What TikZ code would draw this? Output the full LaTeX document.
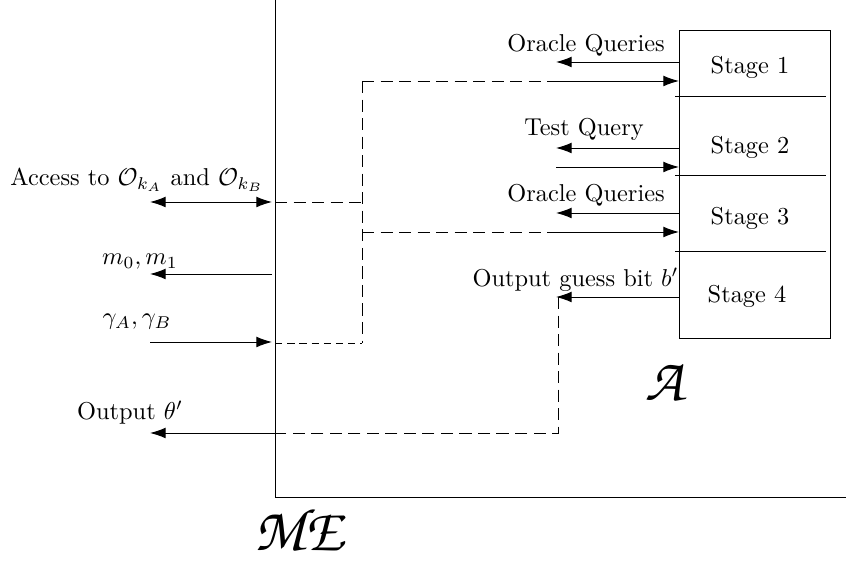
\documentclass[tikz,border=0pt]{standalone}
\usepackage{amsmath}
\DeclareMathAlphabet{\mathpzc}{OT1}{pzc}{m}{it}
\usetikzlibrary{arrows.meta}
\begin{document}
\begin{tikzpicture}[x=0.41pt,y=-0.41pt,
  tip/.style={-{Latex[length=6.4pt,width=4.4pt]}},
  dtip/.style={{Latex[length=6.4pt,width=4.4pt]}-{Latex[length=6.4pt,width=4.4pt]}},
  longdash/.style={dash pattern=on 5pt off 2.6pt},
  shortdash/.style={dash pattern=on 3pt off 2pt},
  lab/.style={inner sep=0pt,font=\normalsize}]
\useasboundingbox (0,0) rectangle (846,567);
% ME frame
\coordinate (metop) at (275,0);
\coordinate (mecorner) at (275,497);
\coordinate (meright) at (846,497);
\draw (metop) -- (mecorner) -- (meright);
% Stage box
\draw (679,30) rectangle (830,338);
\draw (675,96) -- (826,96);
\draw (675,175) -- (826,175);
\draw (675,251) -- (826,251);
\node[lab] (s1) at (750,67) {Stage 1};
\node[lab] (s2) at (750,147) {Stage 2};
\node[lab] (s3) at (750,218) {Stage 3};
\node[lab] (s4) at (747,296) {Stage 4};
% coordinates on box edge
\coordinate (b1a) at (679,62);  \coordinate (l1a) at (556,62);
\coordinate (b1b) at (679,81);  \coordinate (l1b) at (556,81);
\coordinate (b2a) at (679,148); \coordinate (l2a) at (556,148);
\coordinate (b2b) at (679,167); \coordinate (l2b) at (556,167);
\coordinate (b3a) at (679,213); \coordinate (l3a) at (556,213);
\coordinate (b3b) at (679,232); \coordinate (l3b) at (556,232);
\coordinate (b4) at (679,297);  \coordinate (l4) at (556,297);
\draw[tip] (b1a) -- (l1a);
\draw[tip] (l1b) -- (b1b);
\draw[tip] (b2a) -- (l2a);
\draw[tip] (l2b) -- (b2b);
\draw[tip] (b3a) -- (l3a);
\draw[tip] (l3b) -- (b3b);
\draw[tip] (b4) -- (l4);
\node[lab] (oq1) at (586,45) {Oracle Queries};
\node[lab] (tq) at (584,129) {Test Query};
\node[lab] (oq2) at (586,195) {Oracle Queries};
\node[lab,anchor=east] (ogb) at (679,280) {Output guess bit $b'$};
% left side
\coordinate (acc) at (272,202); \coordinate (accL) at (150,202);
\coordinate (mm) at (272,274);  \coordinate (mmL) at (150,274);
\coordinate (gg) at (272,342);  \coordinate (ggL) at (150,342);
\coordinate (th) at (275,433);  \coordinate (thL) at (150,433);
\draw[dtip] (accL) -- (acc);
\draw[tip] (mm) -- (mmL);
\draw[tip] (ggL) -- (gg);
\draw[tip] (th) -- (thL);
\node[lab] (acclab) at (137,180) {Access to $\mathcal{O}_{k_A}$ and $\mathcal{O}_{k_B}$};
\node[lab] (mmlab) at (140,262) {$m_0, m_1$};
\node[lab] (gglab) at (137,322) {$\gamma_A, \gamma_B$};
\node[lab] (thlab) at (130,413) {Output $\theta'$};
% dashed connectors
\coordinate (j1) at (362,202);
\coordinate (jt) at (362,81);
\coordinate (jm) at (362,232);
\coordinate (jb) at (362,343);
\coordinate (g4) at (558,297);
\coordinate (g4b) at (558,433);
\draw[longdash] (acc) ++(3,0) -- (j1);
\draw[longdash] (jt) -- (jb);
\draw[longdash] (jt) -- (l1b);
\draw[longdash] (jm) -- (l3b);
\draw[shortdash] (275,343) -- (jb);
\draw[longdash] (g4) -- (g4b) -- (th);
% big labels
\node[lab] (A) at (667,381) {\Huge $\mathpzc{A}$};
\node[lab] (ME) at (302,529) {\Huge $\mathpzc{ME}$};
\end{tikzpicture}
\end{document}
